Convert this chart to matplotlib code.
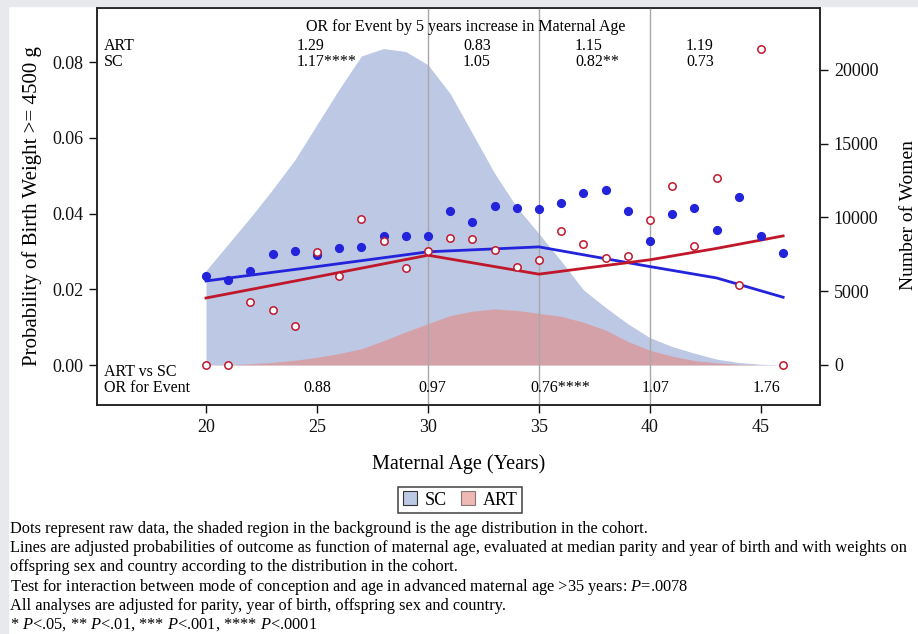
import matplotlib.pyplot as plt
from matplotlib.patches import Patch, Rectangle

plt.rcParams['font.family'] = 'Liberation Serif'
plt.rcParams['mathtext.fontset'] = 'custom'
plt.rcParams['mathtext.rm'] = 'Liberation Serif'
plt.rcParams['mathtext.it'] = 'Liberation Serif:italic'

# maternal age, raw proportions of birth weight >= 4500 g
ages = list(range(20, 47))
sc_rate = [0.0235, 0.0225, 0.0249, 0.0294, 0.0301, 0.0290, 0.0309, 0.0311, 0.0341,
           0.0341, 0.0341, 0.0407, 0.0377, 0.0421, 0.0414, 0.0413, 0.0428, 0.0455,
           0.0463, 0.0408, 0.0327, 0.0399, 0.0414, 0.0356, 0.0445, 0.0341, 0.0295]
art_rate = [0.0000, 0.0000, 0.0166, 0.0146, 0.0104, 0.0299, 0.0235, 0.0386, 0.0328,
            0.0256, 0.0300, 0.0335, 0.0332, 0.0305, 0.0258, 0.0277, 0.0354, 0.0319,
            0.0283, 0.0289, 0.0383, 0.0473, 0.0315, 0.0495, 0.0212, 0.0836, 0.0000]

# number of women per age
sc_women = [6400, 8200, 10000, 11900, 13900, 16300, 18700, 20950, 21450, 21250,
            20350, 18400, 15700, 13000, 10700, 8900, 7050, 5100, 3900, 2800,
            1850, 1250, 800, 400, 170, 50, 0]
art_women = [0, 20, 80, 180, 320, 520, 780, 1100, 1650, 2250, 2800, 3350, 3650,
             3800, 3700, 3500, 3300, 2900, 2370, 1600, 1000, 600, 300, 150, 50, 10, 0]

# adjusted probabilities
fit_ages = [20, 25, 30, 35, 40, 43, 46]
sc_fit = [0.0222, 0.0260, 0.0299, 0.0312, 0.0260, 0.0230, 0.0179]
art_fit = [0.0177, 0.0233, 0.0290, 0.0240, 0.0278, 0.0308, 0.0341]

# odds ratios
or_age_art = ['1.29', '0.83', '1.15', '1.19']
or_age_sc = ['1.17****', '1.05', '0.82**', '0.73']
or_group = ['0.88', '0.97', '0.76****', '1.07', '1.76']
breaks = [30, 35, 40]

footnotes = [
    'Dots represent raw data, the shaded region in the background is the age distribution in the cohort.',
    'Lines are adjusted probabilities of outcome as function of maternal age, evaluated at median parity and year of birth and with weights on',
    'offspring sex and country according to the distribution in the cohort.',
    r'Test for interaction between mode of conception and age in advanced maternal age >35 years: $P$=.0078',
    'All analyses are adjusted for parity, year of birth, offspring sex and country.',
    r'* $P$<.05, ** $P$<.01, *** $P$<.001, **** $P$<.0001',
]

blue = '#2323dc'
red = '#c0172b'
sc_fill = '#bdc8e4'
art_fill = '#e5867e'

W, H = 918, 634
fig = plt.figure(figsize=(W / 100, H / 100), dpi=100)
fig.patches.append(Rectangle((0, 1 - 6 / H), 1, 6 / H, transform=fig.transFigure,
                             color='#e8e9ec', zorder=0))
fig.patches.append(Rectangle((0, 0), 8 / W, 1, transform=fig.transFigure,
                             color='#e8e9ec', zorder=0))

ax = fig.add_axes([97 / W, 1 - 405 / H, (820 - 97) / W, (405 - 8) / H])
ax2 = ax.twinx()
ax.set_zorder(ax2.get_zorder() + 1)
ax.patch.set_visible(False)

ax2.fill_between(ages, 0, sc_women, color=sc_fill, lw=0)
ax2.fill_between(ages, 0, art_women, color=art_fill, alpha=0.58, lw=0)
ax2.set_ylim(-2712, 24200)
ax2.set_yticks([0, 5000, 10000, 15000, 20000])

for b in breaks:
    ax.axvline(b, color='#a8a8a8', lw=1.0, zorder=1)

ax.plot(fit_ages, sc_fit, color=blue, lw=2.0, zorder=3)
ax.plot(fit_ages, art_fit, color=red, lw=2.0, zorder=3)
ax.plot(ages, sc_rate, 'o', ms=5.6, color=blue, mec=blue, zorder=4)
ax.plot(ages, art_rate, 'o', ms=5.3, mfc='white', mec=red, mew=1.1, zorder=4)

ax.set_xlim(15.09, 47.66)
ax.set_ylim(-0.01056, 0.0943)
ax.set_xticks([20, 25, 30, 35, 40, 45])
ax.set_yticks([0.0, 0.02, 0.04, 0.06, 0.08])
ax.set_yticklabels(['0.00', '0.02', '0.04', '0.06', '0.08'])

for a in (ax, ax2):
    a.tick_params(direction='out', length=6, width=1, labelsize=13, pad=4, colors='#111')
    for s in a.spines.values():
        s.set_linewidth(1.1)
        s.set_color('#222')

ax.set_xlabel('Maternal Age (Years)', fontsize=14.5, labelpad=13)
ax.set_ylabel('Probability of Birth Weight >= 4500 g', fontsize=15, labelpad=7)
fig.text(917 / W, 1 - 215 / H, 'Number of Women', rotation=90, fontsize=14,
         ha='right', va='center')

# odds ratios by 5 years of age within each segment
ax.text(31.71, 0.0892, 'OR for Event by 5 years increase in Maternal Age',
        fontsize=11.5, ha='center', va='center')
ax.text(15.4, 0.0842, 'ART', fontsize=11.5, va='center')
ax.text(15.4, 0.0800, 'SC', fontsize=11.5, va='center')
top_x = [24.1, 31.58, 36.62, 41.62]
for x, a_val, s_val in zip(top_x, or_age_art, or_age_sc):
    ax.text(x, 0.0842, a_val, fontsize=11.5, va='center')
    ax.text(x, 0.0800, s_val, fontsize=11.5, va='center')

# ART vs SC odds ratios
ax.text(15.4, -0.00185, 'ART vs SC', fontsize=11.5, va='center')
ax.text(15.4, -0.0061, 'OR for Event', fontsize=11.5, va='center')
bottom_x = [24.37, 29.55, 34.6, 39.64, 44.64]
for x, val in zip(bottom_x, or_group):
    ax.text(x, -0.0061, val, fontsize=11.5, va='center')

handles = [Patch(facecolor=sc_fill, edgecolor='#333', lw=0.8, label='SC'),
           Patch(facecolor=art_fill, alpha=0.58, edgecolor='#333', lw=0.8, label='ART')]
leg = fig.legend(handles=handles, loc='center', ncol=2,
                 bbox_to_anchor=(460 / W, 1 - 500 / H), fontsize=13,
                 frameon=True, fancybox=False, edgecolor='#111',
                 handlelength=0.8, handleheight=0.8, handletextpad=0.4,
                 columnspacing=0.8, borderpad=0.25)
leg.get_frame().set_linewidth(1.1)

for i, line in enumerate(footnotes):
    fig.text(10 / W, 1 - (529 + 19.2 * i) / H, line, fontsize=11.75, va='center', ha='left')

fig.savefig('out.png', dpi=100)
